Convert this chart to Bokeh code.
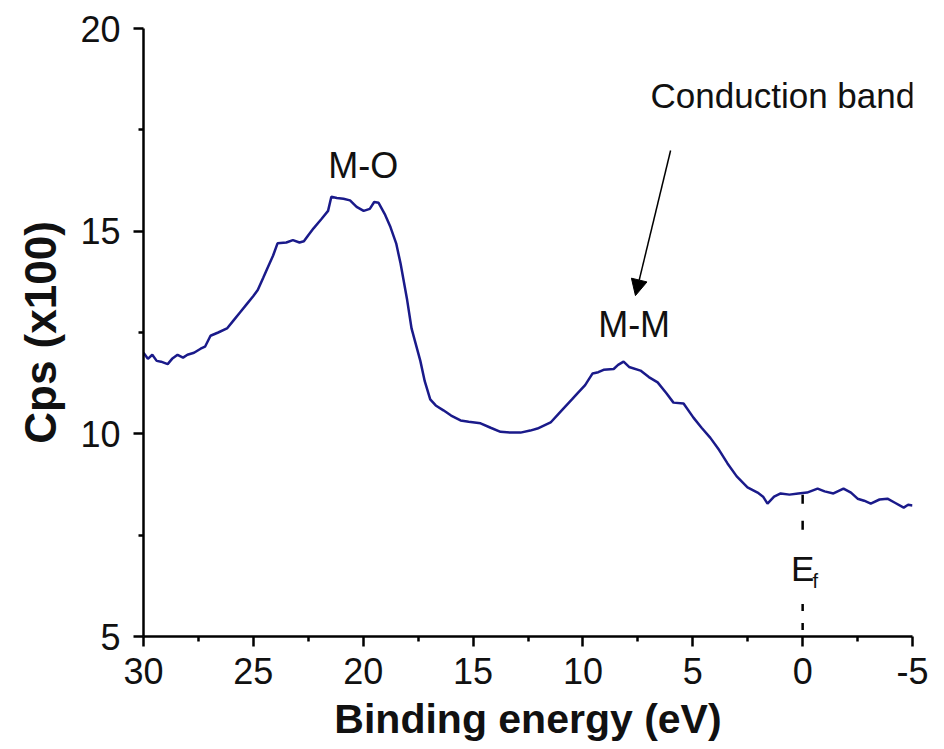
from bokeh.plotting import figure
from bokeh.models import Range1d, FixedTicker, Label, Arrow, NormalHead
from bokeh.embed import file_html
from bokeh.resources import INLINE

# Binding energy (eV) and counts (x100)
energy = [30.0, 29.8, 29.6, 29.4, 29.2, 28.9, 28.7, 28.45, 28.2, 28.0, 27.7, 27.4, 27.2,
          26.95, 26.6, 26.2, 25.9, 25.6, 25.3, 25.0, 24.8, 24.55, 24.35, 24.1, 23.9, 23.5,
          23.2, 22.9, 22.7, 22.5, 22.26, 21.9, 21.6, 21.45, 21.2, 20.9, 20.6, 20.3, 19.98,
          19.7, 19.5, 19.3, 19.0, 18.76, 18.5, 18.3, 18.0, 17.8, 17.65, 17.4, 17.2, 16.95,
          16.7, 16.35, 16.0, 15.57, 15.2, 14.66, 14.2, 13.75, 13.3, 12.84, 12.4, 12.07,
          11.47, 11.1, 10.88, 10.5, 10.25, 9.9, 9.56, 9.3, 9.06, 8.6, 8.4, 8.15, 7.9, 7.38,
          7.0, 6.6, 6.2, 5.88, 5.42, 4.97, 4.6, 4.2, 3.8, 3.42, 3.0, 2.51, 2.05, 1.8, 1.6,
          1.3, 1.0, 0.6, 0.2, -0.2, -0.68, -1.0, -1.4, -1.86, -2.2, -2.5, -2.8, -3.1, -3.5,
          -3.86, -4.2, -4.6, -4.8, -5.0]
cps = [12.0, 11.85, 11.95, 11.8, 11.78, 11.72, 11.85, 11.95, 11.88, 11.95, 12.0, 12.1, 12.15,
       12.42, 12.5, 12.6, 12.8, 13.0, 13.2, 13.4, 13.55, 13.85, 14.1, 14.4, 14.7, 14.72,
       14.78, 14.72, 14.75, 14.9, 15.07, 15.3, 15.5, 15.85, 15.82, 15.8, 15.76, 15.6, 15.5,
       15.55, 15.72, 15.7, 15.4, 15.1, 14.7, 14.2, 13.3, 12.6, 12.3, 11.8, 11.3, 10.85,
       10.7, 10.58, 10.45, 10.33, 10.3, 10.26, 10.15, 10.05, 10.03, 10.03, 10.08, 10.13,
       10.28, 10.5, 10.63, 10.85, 11.0, 11.2, 11.49, 11.52, 11.58, 11.6, 11.7, 11.78, 11.65,
       11.56, 11.4, 11.27, 11.0, 10.77, 10.75, 10.4, 10.15, 9.9, 9.6, 9.27, 8.95, 8.68, 8.55,
       8.45, 8.28, 8.45, 8.53, 8.5, 8.53, 8.55, 8.65, 8.58, 8.53, 8.65, 8.55, 8.4, 8.35, 8.28,
       8.38, 8.4, 8.3, 8.18, 8.25, 8.23]

x_ticks = [30, 25, 20, 15, 10, 5, 0, -5]
x_minor = [27.5, 22.5, 17.5, 12.5, 7.5, 2.5, -2.5]
y_ticks = [5, 10, 15, 20]
y_minor = [7.5, 12.5, 17.5]

FONT = "Liberation Sans"

p = figure(width=944, height=749, output_backend="svg", toolbar_location=None,
           x_range=Range1d(30, -5), y_range=Range1d(5, 20),
           min_border_left=143, min_border_right=32, min_border_top=28, min_border_bottom=113)
p.outline_line_color = None
p.grid.visible = False
p.background_fill_color = "white"
p.border_fill_color = "white"

p.line(energy, cps, line_color="#1a1a8a", line_width=2.5)

# Fermi level marker
p.line([0, 0], [8.5, 7.6], line_color="black", line_width=2.5, line_dash="9 17")
p.line([0, 0], [5.8, 5.0], line_color="black", line_width=2.5, line_dash="7 12")

for ax, ticks, minor in ((p.xaxis[0], x_ticks, x_minor), (p.yaxis[0], y_ticks, y_minor)):
    ax.ticker = FixedTicker(ticks=ticks, minor_ticks=minor)
    ax.axis_line_width = 2.5
    ax.axis_line_color = "black"
    ax.major_tick_line_width = 2.5
    ax.minor_tick_line_width = 2.5
    ax.major_tick_in = 0
    ax.major_tick_out = 10
    ax.minor_tick_in = 0
    ax.minor_tick_out = 5
    ax.major_label_text_font = FONT
    ax.major_label_text_font_size = "36px"
    ax.major_label_text_color = "#111111"
    ax.axis_label_text_font = FONT
    ax.axis_label_text_font_style = "bold"
    ax.axis_label_text_color = "#111111"

p.xaxis.major_label_overrides = {t: str(t) for t in x_ticks}
p.xaxis.axis_label = "Binding energy (eV)"
p.xaxis.axis_label_text_font_size = "41px"
p.xaxis.major_label_standoff = 11
p.xaxis.axis_label_standoff = 9

p.yaxis.axis_label = "Cps (x100)"
p.yaxis.axis_label_text_font_size = "44px"
p.yaxis.major_label_standoff = 13
p.yaxis.axis_label_standoff = 12

def lab(x, y, text, size, align="center"):
    p.add_layout(Label(x=x, y=y, text=text, text_font=FONT, text_font_size=size,
                       text_align=align, text_baseline="alphabetic", text_color="#111111"))

lab(20.0, 16.63, "M-O", "36px")
lab(7.67, 12.7, "M-M", "36px")
lab(0.9, 18.35, "Conduction band", "35px")
lab(0.0, 6.68, "E", "35px")
lab(-0.45, 6.36, "f", "20px", align="left")

p.add_layout(Arrow(x_start=6.01, y_start=16.99, x_end=7.61, y_end=13.41,
                   line_color="black", line_width=1.5,
                   end=NormalHead(size=16, fill_color="black", line_color="black")))

open("out.html", "w").write(file_html(p, INLINE))
